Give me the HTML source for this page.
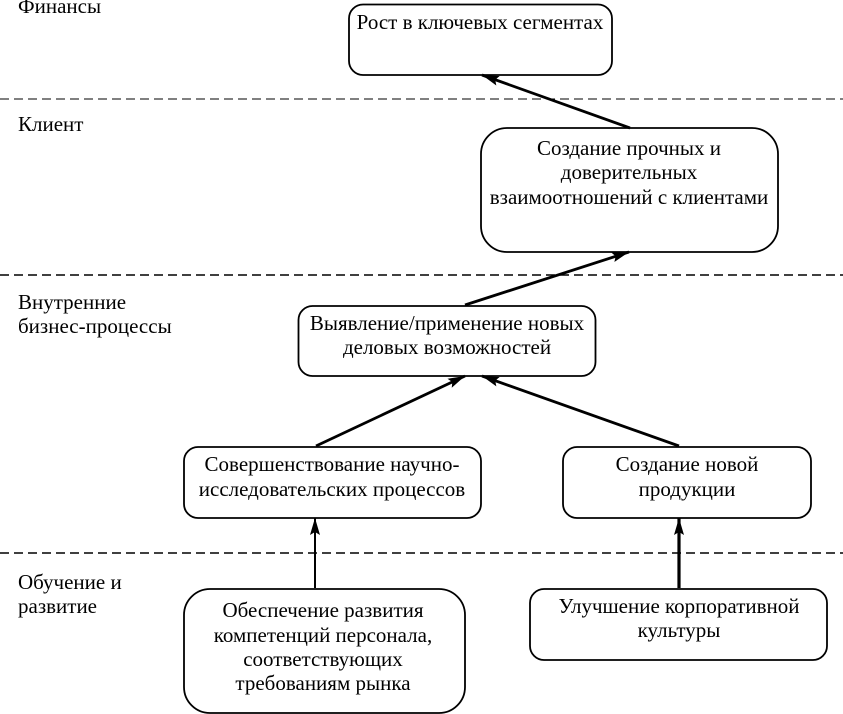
<!DOCTYPE html>
<html lang="ru">
<head>
<meta charset="utf-8">
<style>
html,body{margin:0;padding:0;background:#fff;overflow:hidden;}
svg{display:block;}
text{font-family:"Liberation Serif","Noto Serif CJK SC",serif;font-size:21px;fill:#000;}
.c{text-anchor:middle;}
</style>
</head>
<body>
<svg width="843" height="714" viewBox="0 0 843 714" xmlns="http://www.w3.org/2000/svg">
<defs>
<marker id="a" markerWidth="20" markerHeight="12" refX="17" refY="6" orient="auto" markerUnits="userSpaceOnUse">
<path d="M0 1L17 6L0 11L3 6Z" fill="#000"/>
</marker>
</defs>
<g stroke="#000" stroke-dasharray="9 5" fill="none">
<line x1="0" y1="99" x2="843" y2="99" stroke-width="1"/>
<line x1="0" y1="275" x2="843" y2="275" stroke-width="1.6"/>
<line x1="0" y1="553" x2="843" y2="553" stroke-width="1.6"/>
</g>
<g fill="#fff" stroke="#000" stroke-width="1.8">
<rect x="349" y="4.5" width="263" height="70.5" rx="14"/>
<rect x="481" y="128" width="297" height="124" rx="26"/>
<rect x="298.500" y="306" width="297" height="70" rx="14"/>
<rect x="184" y="447" width="297" height="71" rx="14"/>
<rect x="563" y="447" width="248" height="71" rx="14"/>
<rect x="184" y="589" width="281" height="124" rx="26"/>
<rect x="530" y="589" width="297" height="71" rx="14"/>
</g>
<g stroke="#000" fill="none">
<line x1="630" y1="128" x2="482" y2="75" stroke-width="2.8" marker-end="url(#a)"/>
<line x1="465" y1="305" x2="629" y2="252" stroke-width="2.8" marker-end="url(#a)"/>
<line x1="316" y1="446" x2="465" y2="376" stroke-width="2.8" marker-end="url(#a)"/>
<line x1="679" y1="446" x2="482" y2="376" stroke-width="2.8" marker-end="url(#a)"/>
<line x1="315" y1="588" x2="315" y2="518" stroke-width="2" marker-end="url(#a)"/>
<line x1="679" y1="588" x2="679" y2="518" stroke-width="3.2" marker-end="url(#a)"/>
</g>
<text x="18" y="13">Финансы</text>
<text x="18" y="131">Клиент</text>
<text x="18" y="309">Внутренние</text>
<text x="18" y="333">бизнес-процессы</text>
<text x="18" y="589">Обучение и</text>
<text x="18" y="613">развитие</text>
<text class="c" x="480" y="29">Рост в ключевых сегментах</text>
<text class="c" x="629" y="155">Создание прочных и</text>
<text class="c" x="629" y="179">доверительных</text>
<text class="c" x="629" y="204">взаимоотношений с клиентами</text>
<text class="c" x="447" y="330">Выявление/применение новых</text>
<text class="c" x="447" y="354">деловых возможностей</text>
<text class="c" x="332" y="471">Совершенствование научно-</text>
<text class="c" x="332" y="496">исследовательских процессов</text>
<text class="c" x="687" y="471">Создание новой</text>
<text class="c" x="687" y="496">продукции</text>
<text class="c" x="323" y="617">Обеспечение развития</text>
<text class="c" x="323" y="642">компетенций персонала,</text>
<text class="c" x="323" y="666">соответствующих</text>
<text class="c" x="323" y="690">требованиям рынка</text>
<text class="c" x="679" y="613">Улучшение корпоративной</text>
<text class="c" x="679" y="637">культуры</text>
</svg>
</body>
</html>
